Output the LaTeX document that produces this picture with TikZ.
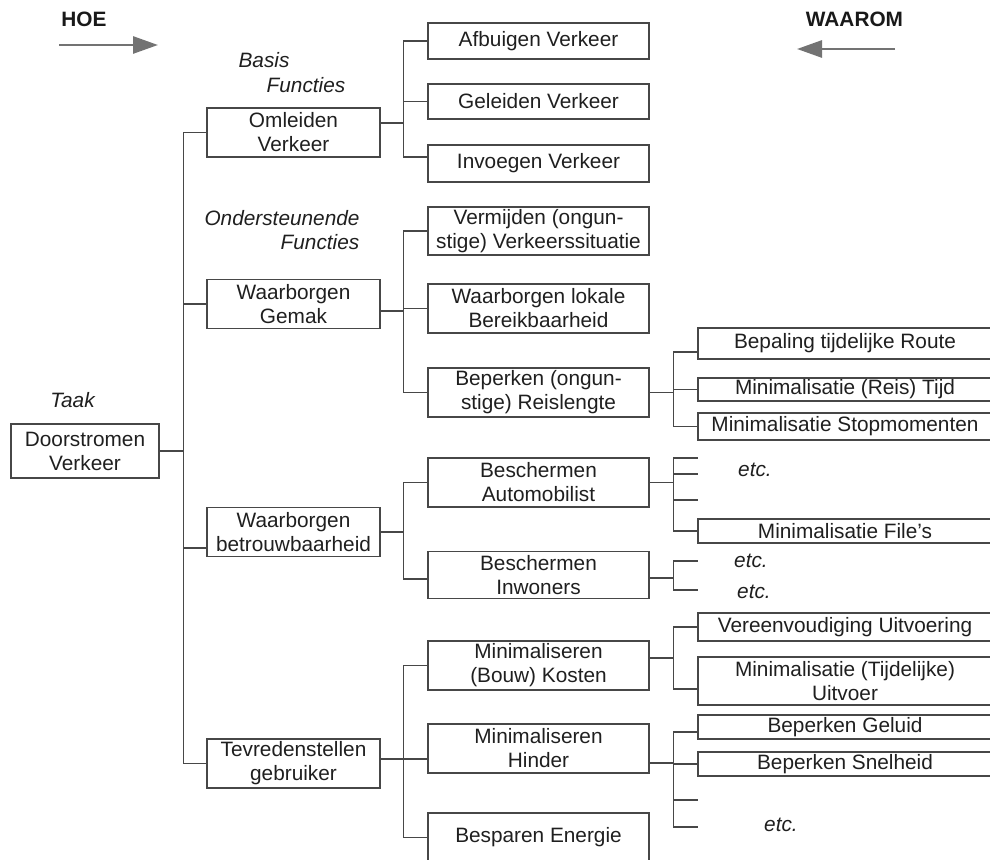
\documentclass[tikz,border=0pt]{standalone}
\usepackage{fontspec}
\setmainfont{Liberation Sans}
\usetikzlibrary{arrows.meta}
\begin{document}
\begin{tikzpicture}[x=0.5pt,y=-0.5pt]
			% Stijlen
			\tikzstyle{lijn}=[draw=black!72,line width=0.65pt]
			\tikzstyle{blok}=[lijn,inner sep=0pt,align=center,font=\fontsize{10.4}{12}\selectfont,text=black!88]
			\tikzstyle{kolomB}=[blok,minimum width=86.5pt,minimum height=24.5pt]
			\tikzstyle{kolomC}=[blok,minimum width=110.5pt,minimum height=24.5pt]
			\tikzstyle{kolomD}=[blok,minimum width=147pt,minimum height=12pt]
			\tikzstyle{commentaar}=[inner sep=0pt,font=\fontsize{10.4}{12}\selectfont\itshape,text=black!88]
			\tikzstyle{kop}=[inner sep=0pt,font=\fontsize{10.4}{12}\selectfont\bfseries,text=black!90]
			\tikzstyle{richting}=[draw=black!55,line width=1.4pt,-{Triangle[length=12.5pt,width=8.5pt]}]
			% Afmetingen
			\def\KolomA{85}
			\def\KolomB{293.5}
			\def\KolomC{538.5}
			\def\KolomD{845}
			\useasboundingbox (0,0) rectangle (990,860);
			\clip (0,0) rectangle (990,860);
			% Koppen
			\node[kop] (Hoe) at (84,19) {HOE};
			\node[kop] (Waarom) at (854.5,19) {WAAROM};
			\coordinate (HoeBegin) at (59,45);
			\coordinate (HoeEind) at (158,45);
			\coordinate (WaaromBegin) at (895,49);
			\coordinate (WaaromEind) at (797,49);
			\draw[richting] (HoeBegin) -- (HoeEind);
			\draw[richting] (WaaromBegin) -- (WaaromEind);
			\node[commentaar] (Taak) at (72.5,400) {Taak};
			\node[commentaar] (Basis) at (264,60) {Basis};
			\node[commentaar] (FunctiesA) at (306,85) {Functies};
			\node[commentaar] (Onderst) at (282,218) {Ondersteunende};
			\node[commentaar] (FunctiesB) at (320,242) {Functies};
			% Knopen
			\node[blok,minimum width=74pt,minimum height=27pt] (Door) at (\KolomA,451) {Doorstromen\\Verkeer};
			%
			\node[kolomB] (Om) at (\KolomB,132.5) {Omleiden\\Verkeer};
			\node[kolomB] (Gemak) at (\KolomB,304) {Waarborgen\\Gemak};
			\node[kolomB] (Betr) at (\KolomB,532) {Waarborgen\\betrouwbaarheid};
			\node[kolomB] (Tevr) at (\KolomB,763.5) {Tevredenstellen\\gebruiker};
			%
			\node[kolomC,minimum height=18pt] (Afb) at (\KolomC,41) {Afbuigen Verkeer};
			\node[kolomC,minimum height=17.5pt] (Gel) at (\KolomC,101.5) {Geleiden Verkeer};
			\node[kolomC,minimum height=18.5pt] (Invg) at (\KolomC,163.5) {Invoegen Verkeer};
			\node[kolomC,minimum height=24pt] (Verm) at (\KolomC,231) {Vermijden (ongun-\\stige) Verkeerssituatie};
			\node[kolomC] (Bereik) at (\KolomC,308.5) {Waarborgen lokale\\Bereikbaarheid};
			\node[kolomC] (Reis) at (\KolomC,392.5) {Beperken (ongun-\\stige) Reislengte};
			\node[kolomC] (Auto) at (\KolomC,482.5) {Beschermen\\Automobilist};
			\node[kolomC,minimum height=23.5pt] (Inw) at (\KolomC,575) {Beschermen\\Inwoners};
			\node[kolomC] (Kost) at (\KolomC,665.5) {Minimaliseren\\(Bouw) Kosten};
			\node[kolomC] (Hind) at (\KolomC,748.5) {Minimaliseren\\Hinder};
			\node[kolomC] (Besp) at (\KolomC,837.5) {Besparen Energie};
			%
			\node[kolomD,minimum height=15.5pt] (Bep) at (\KolomD,343.5) {Bepaling tijdelijke Route};
			\node[kolomD,minimum height=11.5pt] (Tijd) at (\KolomD,389.5) {Minimalisatie (Reis) Tijd};
			\node[kolomD,minimum height=13.5pt] (Stop) at (\KolomD,426.5) {Minimalisatie Stopmomenten};
			\node[kolomD] (File) at (\KolomD,531) {Minimalisatie File’s};
			\node[kolomD,minimum height=14pt] (Eenv) at (\KolomD,627) {Vereenvoudiging Uitvoering};
			\node[kolomD,minimum height=24pt] (TijdU) at (\KolomD,681) {Minimalisatie (Tijdelijke)\\Uitvoer};
			\node[kolomD] (Gelu) at (\KolomD,727) {Beperken Geluid};
			\node[kolomD] (Snel) at (\KolomD,764) {Beperken Snelheid};
			%
			\coordinate (AutoA) at (698,458);
			\coordinate (AutoB) at (698,474);
			\coordinate (AutoC) at (698,500);
			\coordinate (InwA) at (698,561);
			\coordinate (InwB) at (698,590);
			\coordinate (HindA) at (698,800);
			\coordinate (HindB) at (698,827);
			\node[commentaar] (EtcA) at (755,470) {etc.};
			\node[commentaar] (EtcB) at (751,561) {etc.};
			\node[commentaar] (EtcC) at (754,592) {etc.};
			\node[commentaar] (EtcD) at (781,825) {etc.};
			% Verbindingen
			\draw[lijn] (Door.east) -- ++(24,0) |- (Om.west);
			\draw[lijn] (Door.east) -- ++(24,0) |- (Gemak.west);
			\draw[lijn] (Door.east) -- ++(24,0) |- ([yshift=-8pt]Betr.west);
			\draw[lijn] (Door.east) -- ++(24,0) |- (Tevr.west);
			%
			\draw[lijn] ([yshift=4.75pt]Om.east) -- ++(23,0) |- (Afb.west);
			\draw[lijn] ([yshift=4.75pt]Om.east) -- ++(23,0) |- (Gel.west);
			\draw[lijn] ([yshift=4.75pt]Om.east) -- ++(23,0) |- ([yshift=3.25pt]Invg.west);
			\draw[lijn] ([yshift=-3.5pt]Gemak.east) -- ++(23,0) |- (Verm.west);
			\draw[lijn] ([yshift=-3.5pt]Gemak.east) -- ++(23,0) |- (Bereik.west);
			\draw[lijn] ([yshift=-3.5pt]Gemak.east) -- ++(23,0) |- (Reis.west);
			\draw[lijn] (Betr.east) -- ++(23,0) |- (Auto.west);
			\draw[lijn] (Betr.east) -- ++(23,0) |- ([yshift=-2pt]Inw.west);
			\draw[lijn] ([yshift=2.25pt]Tevr.east) -- ++(23,0) |- (Kost.west);
			\draw[lijn] ([yshift=2.25pt]Tevr.east) -- ++(23,0) |- ([yshift=-5.25pt]Hind.west);
			\draw[lijn] ([yshift=2.25pt]Tevr.east) -- ++(23,0) |- (Besp.west);
			%
			\draw[lijn] (Reis.east) -- ++(24,0) |- ([yshift=-4.25pt]Bep.west);
			\draw[lijn] (Reis.east) -- ++(24,0) |- (Tijd.west);
			\draw[lijn] (Reis.east) -- ++(24,0) |- (Stop.west);
			\draw[lijn] (Auto.east) -- ++(24,0) |- (AutoA);
			\draw[lijn] (Auto.east) -- ++(24,0) |- (AutoB);
			\draw[lijn] (Auto.east) -- ++(24,0) |- (AutoC);
			\draw[lijn] (Auto.east) -- ++(24,0) |- (File.west);
			\draw[lijn] ([yshift=-1.5pt]Inw.east) -- ++(24,0) |- (InwA);
			\draw[lijn] ([yshift=-1.5pt]Inw.east) -- ++(24,0) |- (InwB);
			\draw[lijn] ([yshift=3.75pt]Kost.east) -- ++(24,0) |- (Eenv.west);
			\draw[lijn] ([yshift=3.75pt]Kost.east) -- ++(24,0) |- ([yshift=-4pt]TijdU.west);
			\draw[lijn] ([yshift=-7.25pt]Hind.east) -- ++(24,0) |- ([yshift=-2.5pt]Gelu.west);
			\draw[lijn] ([yshift=-7.25pt]Hind.east) -- ++(24,0) |- (Snel.west);
			\draw[lijn] ([yshift=-7.25pt]Hind.east) -- ++(24,0) |- (HindA);
			\draw[lijn] ([yshift=-7.25pt]Hind.east) -- ++(24,0) |- (HindB);
		\end{tikzpicture}
\end{document}
